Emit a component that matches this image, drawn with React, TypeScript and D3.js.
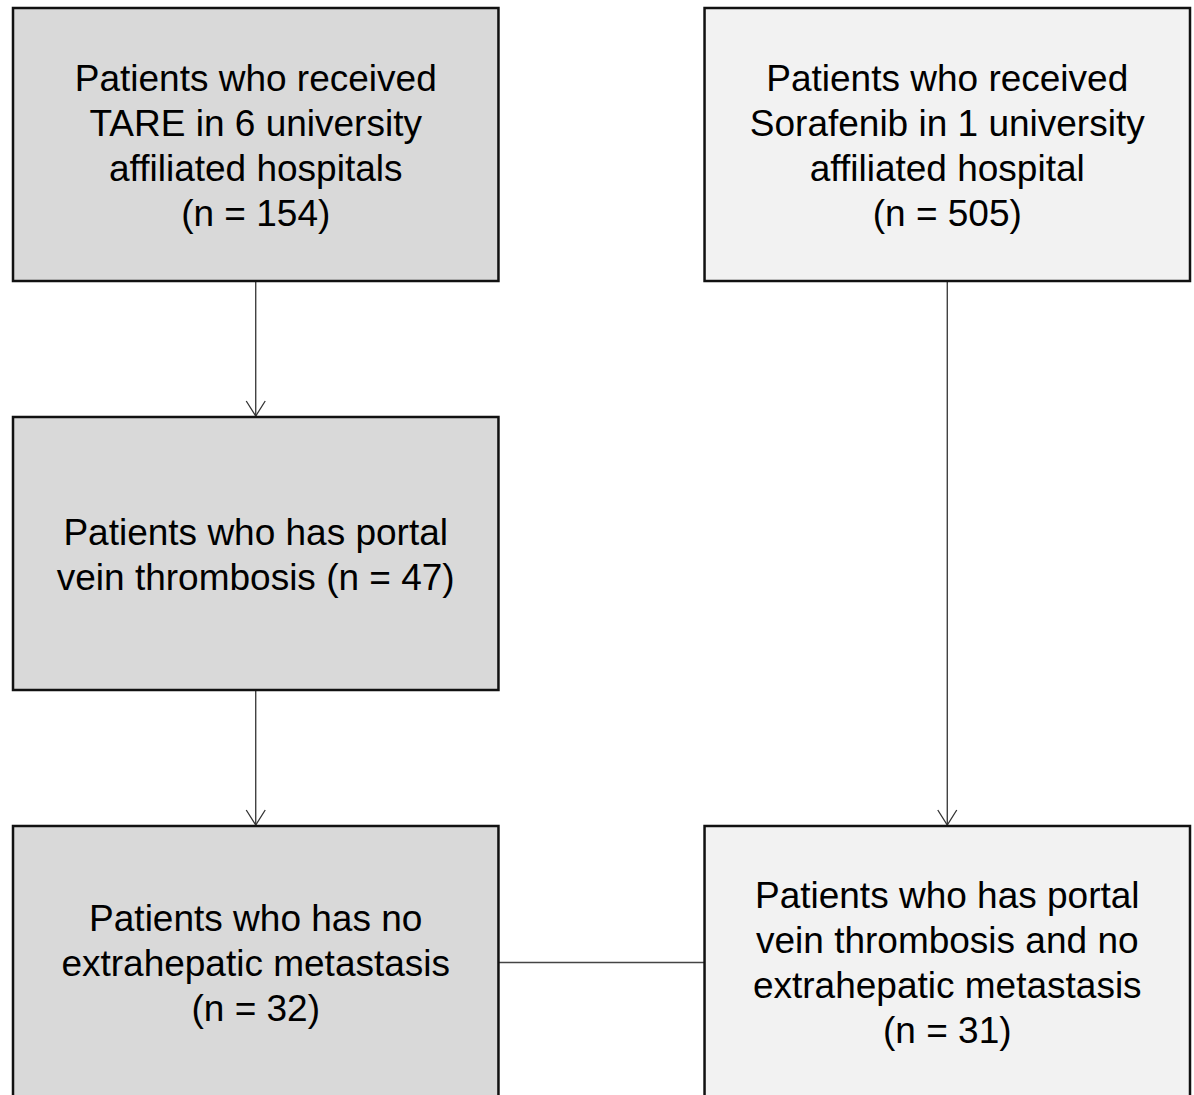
import React from "react";
import * as d3 from "d3";

// Flowchart content
const columns = ["TARE", "Sorafenib"];
const rows = ["enrolled", "pvt", "final"];

interface FlowNode {
  id: string;
  col: string;
  row: string;
  lines: string[];
}

const boxLabels: FlowNode[] = [
  { id: "tare0", col: "TARE", row: "enrolled", lines: ["Patients who received", "TARE in 6 university", "affiliated hospitals", "(n = 154)"] },
  { id: "tare1", col: "TARE", row: "pvt", lines: ["Patients who has portal", "vein thrombosis (n = 47)"] },
  { id: "tare2", col: "TARE", row: "final", lines: ["Patients who has no", "extrahepatic metastasis", "(n = 32)"] },
  { id: "sor0", col: "Sorafenib", row: "enrolled", lines: ["Patients who received", "Sorafenib in 1 university", "affiliated hospital", "(n = 505)"] },
  { id: "sor2", col: "Sorafenib", row: "final", lines: ["Patients who has portal", "vein thrombosis and no", "extrahepatic metastasis", "(n = 31)"] },
];

const arrows = [
  ["tare0", "tare1"],
  ["tare1", "tare2"],
  ["sor0", "sor2"],
];

const links = [["tare2", "sor2"]];

const fills: Record<string, string> = { TARE: "#d9d9d9", Sorafenib: "#f2f2f2" };

const W = 1194;
const H = 1095;
const lineH = 45;

export default function App() {
  const x = d3.scaleBand<string>().domain(columns).range([13, 1190]).paddingInner(0.298);
  const y = d3.scaleBand<string>().domain(rows).range([8, 1099]).paddingInner(0.3325);
  const byId = new Map(boxLabels.map((b) => [b.id, b]));
  const cx = (b: FlowNode) => (x(b.col) as number) + x.bandwidth() / 2;
  const cy = (b: FlowNode) => (y(b.row) as number) + y.bandwidth() / 2;

  return (
    <svg
      width={W}
      height={H}
      style={{ position: "absolute", left: 0, top: 0, background: "#fff" }}
      fontFamily="'Liberation Sans', Arial, sans-serif"
    >
      {arrows.map(([a, b]) => {
        const s = byId.get(a)!;
        const t = byId.get(b)!;
        const ax = cx(s);
        const y0 = (y(s.row) as number) + y.bandwidth();
        const y1 = y(t.row) as number;
        return (
          <g key={a + b} stroke="#333" strokeWidth={1.3} fill="none">
            <line x1={ax} x2={ax} y1={y0} y2={y1} />
            <path d={`M${ax - 9.5},${y1 - 16}L${ax},${y1 - 1}L${ax + 9.5},${y1 - 16}`} />
          </g>
        );
      })}
      {links.map(([a, b]) => {
        const s = byId.get(a)!;
        const t = byId.get(b)!;
        return (
          <line
            key={a + b}
            x1={(x(s.col) as number) + x.bandwidth()}
            x2={x(t.col) as number}
            y1={cy(s)}
            y2={cy(t)}
            stroke="#444"
            strokeWidth={1.5}
          />
        );
      })}
      {boxLabels.map((b) => {
        const n = b.lines.length;
        return (
          <g key={b.id}>
            <rect
              x={x(b.col) as number}
              y={y(b.row) as number}
              width={x.bandwidth()}
              height={y.bandwidth()}
              fill={fills[b.col]}
              stroke="#111"
              strokeWidth={2.5}
            />
            {b.lines.map((l, i) => (
              <text
                key={i}
                x={cx(b)}
                y={cy(b) + (i - (n - 1) / 2) * lineH + 1}
                textAnchor="middle"
                dominantBaseline="central"
                fontSize={37}
                fill="#000"
              >
                {l}
              </text>
            ))}
          </g>
        );
      })}
    </svg>
  );
}
